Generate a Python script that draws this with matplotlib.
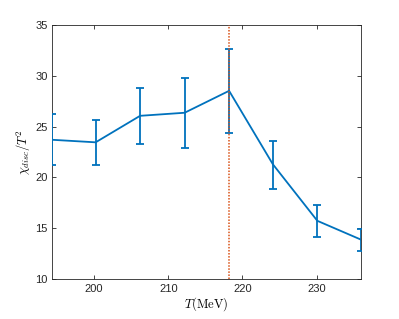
import matplotlib
matplotlib.use("Agg")
import matplotlib.pyplot as plt

# temperatures (MeV) and chi_disc / T^2 with error bars
temps = [194.3, 200.2, 206.2, 212.2, 218.2, 224.1, 230.1, 236.0]
chi = [23.7, 23.45, 26.05, 26.35, 28.5, 21.3, 15.75, 13.9]
err_up = [2.5, 2.2, 2.7, 3.45, 4.1, 2.3, 1.6, 1.05]
err_down = [2.45, 2.2, 2.75, 3.45, 4.1, 2.45, 1.6, 1.1]
t_c = 218.2

plt.rcParams["font.family"] = ["Liberation Sans", "DejaVu Sans"]
plt.rcParams["mathtext.fontset"] = "cm"

fig = plt.figure(figsize=(3.99, 3.19), dpi=100)
ax = fig.add_axes([0.130, 0.124, 0.775, 0.799])

ax.errorbar(temps, chi, yerr=[err_down, err_up], color="#0072BD", linewidth=1.3,
            elinewidth=1.3, capsize=3, capthick=1.3, zorder=3)
ax.axvline(t_c, color="#D95319", linestyle=(0, (1, 1)), linewidth=1.1, zorder=4)

ax.set_xlim(194.3, 236.0)
ax.set_ylim(10, 35)
ax.set_xticks([200, 210, 220, 230])
ax.set_yticks([10, 15, 20, 25, 30, 35])
ax.tick_params(direction="in", top=True, right=True, labelsize=8, length=3,
               width=0.6, colors="#262626", pad=3)
for s in ax.spines.values():
    s.set_color("#262626")
    s.set_linewidth(0.6)

ax.set_xlabel(r"$T(\mathrm{MeV})$", fontsize=9, labelpad=1)
ax.set_ylabel(r"$\chi_{disc}/T^2$", fontsize=9, labelpad=2)

fig.savefig("out.png", dpi=100)
